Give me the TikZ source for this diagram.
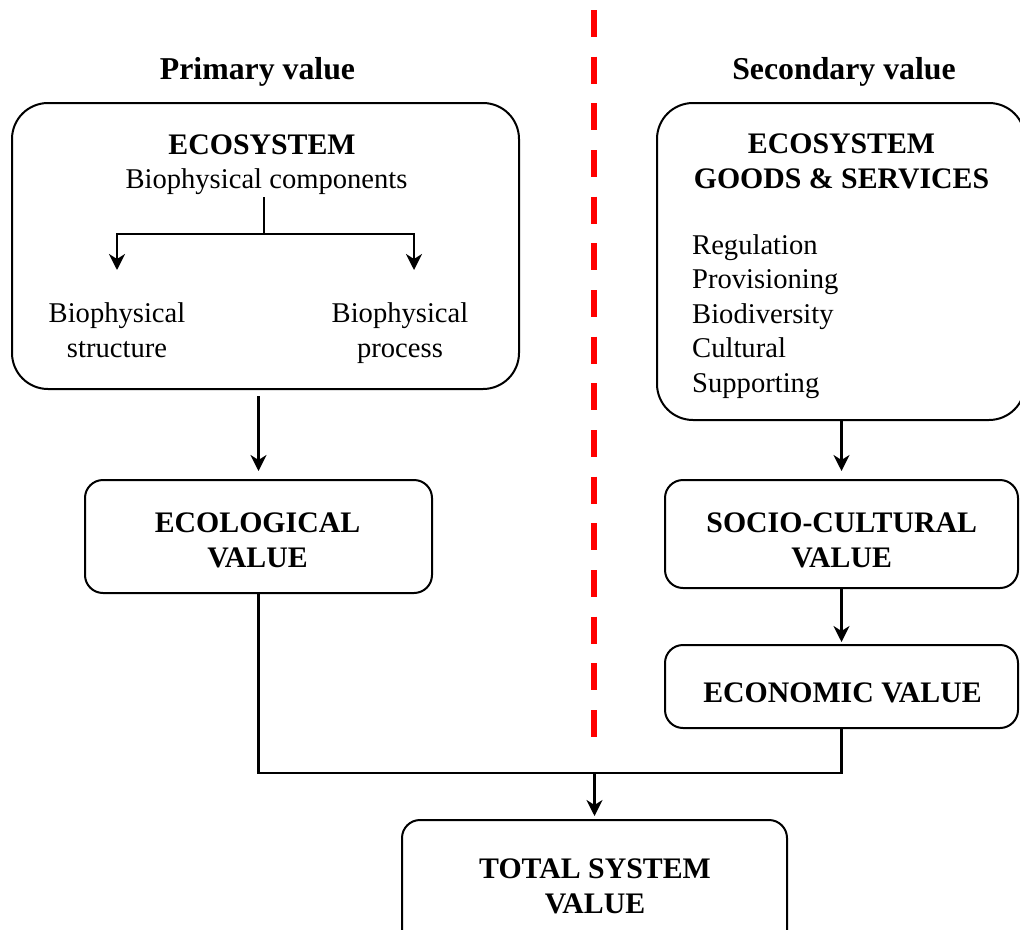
\documentclass[tikz,border=0pt]{standalone}
\usepackage{fontspec}
\setmainfont{Liberation Serif}
\usetikzlibrary{arrows.meta,calc}
\begin{document}
\begin{tikzpicture}[x=1pt,y=-1pt,
  bigbox/.style={draw, line width=2pt, rounded corners=36pt, inner sep=0pt},
  smallbox/.style={draw, line width=2pt, rounded corners=18pt, inner sep=0pt},
  txt/.style={font=\fontsize{28.6}{34.5}\selectfont, inner sep=0pt, anchor=base},
  btxt/.style={font=\fontsize{29.8}{34.5}\selectfont\bfseries, inner sep=0pt, anchor=base, align=center},
  ttxt/.style={font=\fontsize{31.8}{36}\selectfont\bfseries, inner sep=0pt, anchor=base},
  conn/.style={line width=2.2pt},
  arr/.style={line width=2.2pt, -{Stealth[length=16pt,width=16pt,inset=5pt]}},
  divider/.style={draw=red, line width=6pt, dash pattern=on 27pt off 19.67pt}]
\useasboundingbox (0,0) rectangle (1020,929);

% divider
\coordinate (dtop) at (594,10);
\coordinate (dbot) at (594,737);
\draw[divider] (dtop) -- (dbot);

% titles
\node[ttxt] (ptitle) at (257.5,79) {Primary value};
\node[ttxt] (stitle) at (844,79) {Secondary value};

% boxes
\node[bigbox, minimum width=507pt, minimum height=286pt] (lbox) at (265.5,246) {};
\node[bigbox, minimum width=368pt, minimum height=317pt] (rbox) at (841,261.5) {};
\node[smallbox, minimum width=347pt, minimum height=113pt] (eco) at (258.5,536.5) {};
\node[smallbox, minimum width=353pt, minimum height=108pt] (socio) at (841.5,534) {};
\node[smallbox, minimum width=353pt, minimum height=83pt] (econ) at (841.5,686.5) {};
\node[smallbox, minimum width=385pt, minimum height=128pt] (total) at (594.5,884) {};

% left box content
\node[btxt] (ecol) at (262,154) {ECOSYSTEM};
\node[txt] (comp) at (266.5,188) {Biophysical components};
\node[txt, align=center] (struct) at (117,357) {Biophysical\\structure};
\node[txt, align=center] (proc) at (400,357) {Biophysical\\process};
\coordinate (junc) at (264,234);
\coordinate (tipL) at (117,270);
\coordinate (tipR) at (414,270);
\draw[conn, shorten <=3pt] (junc |- comp.south) -- (junc);
\draw[arr] (junc) -| (tipL);
\draw[arr] (junc) -| (tipR);

% right box content
\node[btxt] (ecor) at (841.5,188) {ECOSYSTEM\\GOODS \& SERVICES};
\node[txt, anchor=base west, align=left] (list) at (692,392) {Regulation\\Provisioning\\Biodiversity\\Cultural\\Supporting};

% small box texts
\node[btxt] (ecot) at (257.5,567) {ECOLOGICAL\\VALUE};
\node[btxt] (sociot) at (841.7,567) {SOCIO-CULTURAL\\VALUE};
\node[btxt] (econt) at (842.5,702) {ECONOMIC VALUE};
\node[btxt] (totalt) at (595,913) {TOTAL SYSTEM\\VALUE};

% connectors
\draw[arr, shorten <=6pt, shorten >=8pt] (eco.north |- lbox.south) -- (eco.north);
\draw[arr, shorten >=8pt] (socio.north |- rbox.south) -- (socio.north);
\draw[arr, shorten >=2pt] (socio.south) -- (econ.north);
\coordinate (jb) at (594.5,773);
\draw[conn] (eco.south) |- (jb) -| (econ.south);
\draw[arr, shorten >=3pt] (jb) -- (total.north);
\end{tikzpicture}
\end{document}
